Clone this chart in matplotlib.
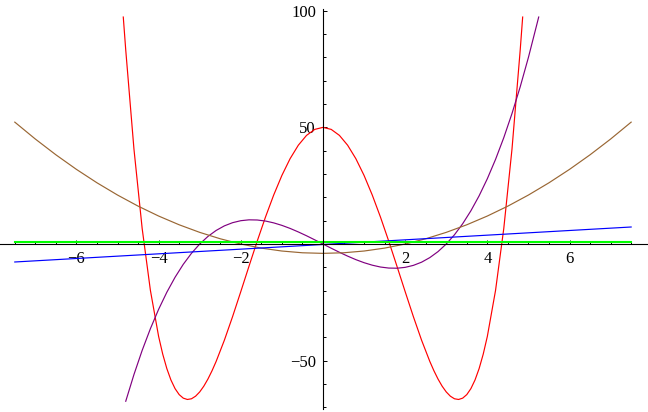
import matplotlib
matplotlib.use("Agg")
import matplotlib.pyplot as plt
import numpy as np

# values
red_x = [-4.86, -4.8, -4.6, -4.4, -4.2, -4.0, -3.9, -3.8, -3.7, -3.6, -3.5, -3.4, -3.3,
         -3.2, -3.1, -3.0, -2.9, -2.8, -2.7, -2.6,
         -2.4, -2.2, -2.0, -1.8, -1.6, -1.4, -1.2, -1.0, -0.8, -0.6, -0.4, -0.2, 0.0,
         0.2, 0.4, 0.6, 0.8, 1.0, 1.2, 1.4, 1.6, 1.8, 2.0, 2.2, 2.4, 2.6, 2.7, 2.8, 2.9,
         3.0, 3.1, 3.2, 3.3, 3.4, 3.5, 3.6, 3.7, 3.8, 3.9, 4.0, 4.2, 4.4, 4.6, 4.8, 4.86]
red_y = [97.3, 83.18, 40.69, 6.63, -19.85, -39.6, -47.19, -53.39, -58.29, -61.97, -64.54,
         -66.06, -66.63, -66.33, -65.22, -63.4, -60.93, -57.88, -54.32, -50.32,
         -41.24, -31.12, -20.4, -9.49, 1.26, 11.51, 20.97, 29.4, 36.59, 42.35, 46.57,
         49.14, 50.0,
         49.14, 46.57, 42.35, 36.59, 29.4, 20.97, 11.51, 1.26, -9.49, -20.4, -31.12,
         -41.24, -50.32, -54.32, -57.88, -60.93, -63.4, -65.22, -66.33, -66.63, -66.06,
         -64.54, -61.97, -58.29, -53.39, -47.19, -39.6, -19.85, 6.63, 40.69, 83.18, 97.3]

purple_x = [-4.8, -4.6, -4.4, -4.2, -4.0, -3.8, -3.6, -3.4, -3.2, -3.0, -2.8, -2.6, -2.4,
            -2.2, -2.0, -1.8, -1.6, -1.4, -1.2, -1.0, -0.8, -0.6, -0.4, -0.2, 0.0,
            0.2, 0.4, 0.6, 0.8, 1.0, 1.2, 1.4, 1.6, 1.8, 2.0, 2.2, 2.4, 2.6, 2.8, 3.0,
            3.2, 3.4, 3.6, 3.8, 4.0, 4.2, 4.4, 4.6, 4.8, 5.0, 5.2, 5.25]
purple_y = [-67.39, -55.94, -45.58, -36.29, -28.0, -20.67, -14.26, -8.7, -3.97, 0.0,
            3.25, 5.82, 7.78, 9.15, 10.0, 10.37, 10.3, 9.86, 9.07, 8.0, 6.69, 5.18, 3.54,
            1.79, 0.0,
            -1.79, -3.54, -5.18, -6.69, -8.0, -9.07, -9.86, -10.3, -10.37, -10.0, -9.15,
            -7.78, -5.82, -3.25, 0.0, 3.97, 8.7, 14.26, 20.67, 28.0, 36.29, 45.58, 55.94,
            67.39, 80.0, 93.81, 97.3]

brown_x = [-7.5, -7.0, -6.5, -6.0, -5.5, -5.0, -4.5, -4.0, -3.5, -3.0, -2.5, -2.0, -1.5,
           -1.0, -0.5, 0.0, 0.5, 1.0, 1.5, 2.0, 2.5, 3.0, 3.5, 4.0, 4.5, 5.0, 5.5, 6.0,
           6.5, 7.0, 7.5]
brown_y = [52.25, 45.0, 38.25, 32.0, 26.25, 21.0, 16.25, 12.0, 8.25, 5.0, 2.25, 0.0, -1.75,
           -3.0, -3.75, -4.0, -3.75, -3.0, -1.75, 0.0, 2.25, 5.0, 8.25, 12.0, 16.25, 21.0,
           26.25, 32.0, 38.25, 45.0, 52.25]

blue_x = [-7.5, 7.5]
blue_y = [-7.7, 7.3]

green_x = [-7.5, 7.5]
green_y = [1.0, 1.0]

x_ticks = [-6, -4, -2, 2, 4, 6]
x_labels = ["\u22126", "\u22124", "\u22122", "2", "4", "6"]
y_ticks = [-50, 50, 100]
y_labels = ["\u221250", "50", "100"]

plt.rcParams['font.family'] = ['Liberation Serif', 'DejaVu Serif']

fig = plt.figure(figsize=(6.48, 4.12), dpi=100)
ax = fig.add_axes([0, 0, 1, 1])
ax.patch.set_alpha(0)

ax.plot(red_x, red_y, color='#ff0000', lw=0.85)
ax.plot(purple_x, purple_y, color='#800080', lw=0.85)
ax.plot(brown_x, brown_y, color='#996633', lw=0.85)
ax.plot(blue_x, blue_y, color='#0000ff', lw=0.85)
ax.plot(green_x, green_y, color='#00ff00', lw=1.5)

ax.set_xlim(-7.86, 7.91)
ax.set_ylim(-72.0, 104.6)

ax.spines['left'].set_position(('data', 0))
ax.spines['bottom'].set_position(('data', 0))
ax.spines['top'].set_visible(False)
ax.spines['right'].set_visible(False)
ax.spines['left'].set_bounds(-70.7, 100.6)
for s in ('left', 'bottom'):
    ax.spines[s].set_linewidth(0.8)

ax.set_xticks(x_ticks, x_labels)
ax.set_yticks(y_ticks, y_labels)
ax.set_xticks(np.arange(-7.5, 7.51, 0.5), minor=True)
ax.set_yticks(np.arange(-70, 101, 10), minor=True)
ax.tick_params(which='both', direction='in', width=0.7, labelsize=12, pad=5)
ax.tick_params(which='major', length=3.2)
ax.tick_params(which='minor', length=2.0)

fig.savefig('out.png', dpi=100)
